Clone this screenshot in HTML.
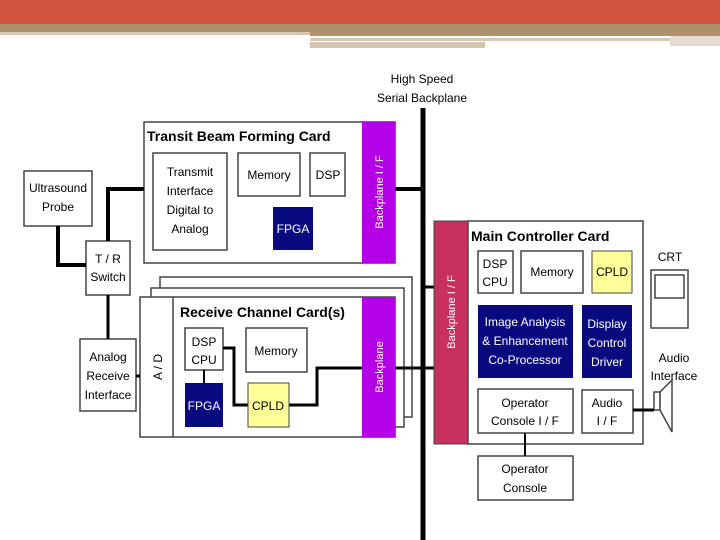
<!DOCTYPE html>
<html><head><style>body{margin:0;background:#fff}svg{display:block}text{font-family:"Liberation Sans",sans-serif;font-size:12px;fill:#000}</style></head><body>
<svg width="720" height="540" viewBox="0 0 720 540">
<rect x="0" y="0" width="720" height="24" fill="#d1533d"/>
<rect x="0" y="24" width="720" height="8" fill="#b09068"/>
<rect x="310" y="32" width="410" height="4" fill="#b09068"/>
<rect x="0" y="32" width="310" height="3" fill="#d6c8b4"/>
<rect x="310" y="38" width="360" height="3" fill="#d6c8b4"/>
<rect x="310" y="42" width="175" height="6" fill="#d3c5b2"/>
<rect x="670" y="36" width="50" height="10" fill="#e6ddd2"/>
<g stroke="#444" stroke-width="1.5" fill="#fff">
<rect x="144" y="122" width="251" height="141"/>
<rect x="153" y="153" width="74" height="97"/>
<rect x="238" y="153" width="62" height="43"/>
<rect x="310" y="153" width="35" height="43"/>
<rect x="24" y="171" width="68" height="55"/>
<rect x="86" y="241" width="44" height="54"/>
<rect x="160" y="277" width="252" height="140"/>
<rect x="151" y="288" width="253" height="139"/>
<rect x="140" y="297" width="255" height="140"/>
<rect x="80" y="339" width="56" height="72"/>
<rect x="185" y="328" width="38" height="42"/>
<rect x="246" y="328" width="61" height="44"/>
<rect x="468" y="221" width="175" height="223"/>
<rect x="478" y="251" width="35" height="42"/>
<rect x="521" y="251" width="62" height="42"/>
<rect x="478" y="389" width="95" height="44"/>
<rect x="582" y="390" width="51" height="43"/>
<rect x="478" y="456" width="95" height="44"/>
<rect x="651" y="270" width="37" height="58"/>
<rect x="655" y="275" width="29" height="23"/>
<rect x="654" y="392" width="6" height="18"/>
<polygon points="660,392 672,380 672,432 660,410"/>
</g>
<line x1="173" y1="297" x2="173" y2="437" stroke="#444" stroke-width="1.5"/>
<g stroke="#000" fill="none">
<line x1="423" y1="108" x2="423" y2="540" stroke-width="5"/>
<polyline points="58,226 58,265 86,265" stroke-width="4"/>
<polyline points="108,241 108,189 144,189" stroke-width="4"/>
<line x1="395" y1="189" x2="423" y2="189" stroke-width="4"/>
<line x1="108" y1="295" x2="108" y2="339" stroke-width="3"/>
<line x1="136" y1="376" x2="140" y2="376" stroke-width="3"/>
<polyline points="223,348 234,348 234,405 248,405" stroke-width="3"/>
<line x1="204" y1="370" x2="204" y2="383" stroke-width="2"/>
<polyline points="289,405 317,405 317,368 362,368" stroke-width="3"/>
<line x1="395" y1="368" x2="434" y2="368" stroke-width="3"/>
<line x1="412" y1="335" x2="434" y2="335" stroke-width="0"/>
<line x1="423" y1="287" x2="434" y2="287" stroke-width="3"/>
<line x1="525" y1="433" x2="525" y2="456" stroke-width="2"/>
<line x1="633" y1="410" x2="654" y2="410" stroke-width="3"/>
</g>
<rect x="362" y="122" width="33" height="141" fill="#b400e6"/>
<rect x="362" y="297" width="33" height="140" fill="#b400e6"/>
<rect x="434" y="221" width="34" height="223" fill="#c8305e" stroke="#444"/>
<rect x="273" y="207" width="40" height="43" fill="#0a0a80"/>
<rect x="185" y="383" width="38" height="44" fill="#0a0a80"/>
<rect x="248" y="383" width="41" height="44" fill="#ffff99" stroke="#444"/>
<rect x="592" y="251" width="40" height="42" fill="#ffff99" stroke="#444"/>
<rect x="478" y="305" width="95" height="73" fill="#0a0a80"/>
<rect x="582" y="305" width="50" height="73" fill="#0a0a80"/>
<g text-anchor="middle">
<text x="422" y="83">High Speed</text><text x="422" y="102">Serial Backplane</text>
<text x="58" y="192">Ultrasound</text><text x="58" y="211">Probe</text>
<text x="108" y="263">T / R</text><text x="108" y="281">Switch</text>
<text x="190" y="176">Transmit</text><text x="190" y="195">Interface</text><text x="190" y="214">Digital to</text><text x="190" y="233">Analog</text>
<text x="269" y="179">Memory</text><text x="328" y="179">DSP</text>
<text x="293" y="233" style="fill:#fff">FPGA</text>
<text x="108" y="361">Analog</text><text x="108" y="380">Receive</text><text x="108" y="399">Interface</text>
<text x="204" y="346">DSP</text><text x="204" y="364">CPU</text>
<text x="276" y="355">Memory</text>
<text x="204" y="410" style="fill:#fff">FPGA</text>
<text x="268" y="410">CPLD</text>
<text x="495" y="268">DSP</text><text x="495" y="286">CPU</text>
<text x="552" y="276">Memory</text><text x="612" y="276">CPLD</text>
<text x="525" y="326" style="fill:#fff">Image Analysis</text><text x="525" y="345" style="fill:#fff">&amp; Enhancement</text><text x="525" y="364" style="fill:#fff">Co-Processor</text>
<text x="607" y="328" style="fill:#fff">Display</text><text x="607" y="347" style="fill:#fff">Control</text><text x="607" y="366" style="fill:#fff">Driver</text>
<text x="525" y="407">Operator</text><text x="525" y="425">Console I / F</text>
<text x="607" y="407">Audio</text><text x="607" y="425">I / F</text>
<text x="525" y="473">Operator</text><text x="525" y="492">Console</text>
<text x="670" y="261">CRT</text>
<text x="674" y="362">Audio</text><text x="674" y="380">Interface</text>
</g>
<text x="147" y="141" style="font-weight:bold;font-size:14px">Transit Beam Forming Card</text>
<text x="180" y="317" style="font-weight:bold;font-size:14px">Receive Channel Card(s)</text>
<text x="471" y="241" style="font-weight:bold;font-size:14px">Main Controller Card</text>
<text transform="translate(383,192) rotate(-90)" text-anchor="middle" style="fill:#fff;font-size:11px">Backplane  I / F</text>
<text transform="translate(383,367) rotate(-90)" text-anchor="middle" style="fill:#fff;font-size:11px">Backplane</text>
<text transform="translate(455,312) rotate(-90)" text-anchor="middle" style="fill:#fff;font-size:11px">Backplane  I / F</text>
<text transform="translate(162,367) rotate(-90)" text-anchor="middle" style="font-size:12px">A / D</text>
</svg>
</body></html>
